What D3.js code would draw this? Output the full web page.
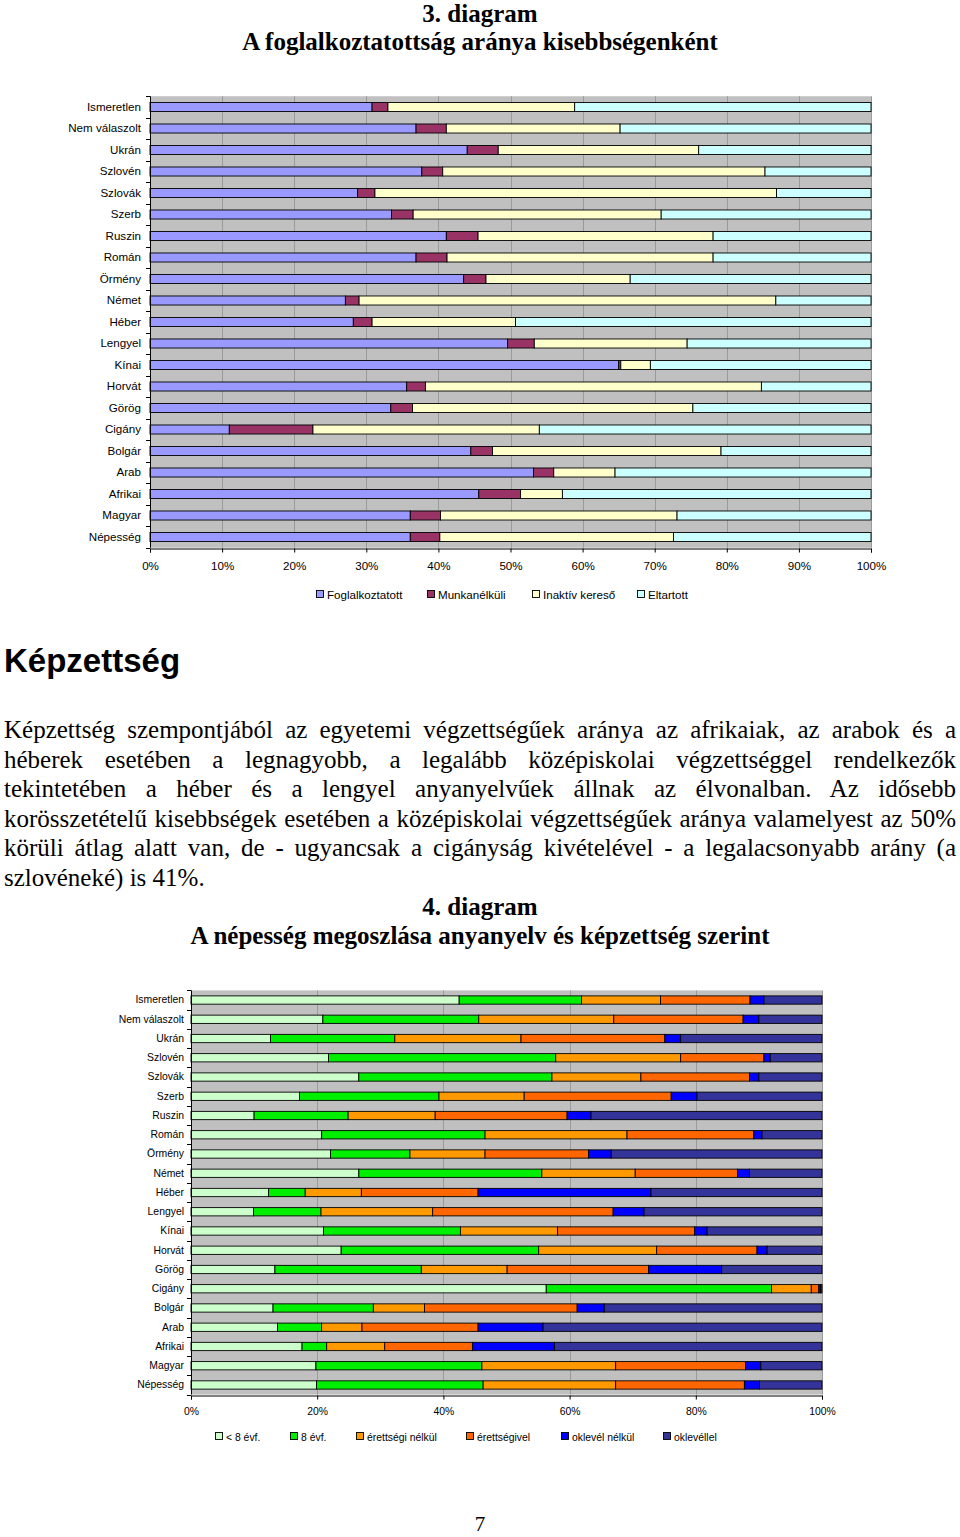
<!DOCTYPE html>
<html><head><meta charset="utf-8">
<script src="https://cdn.jsdelivr.net/npm/d3@7"></script>
<style>
html,body{margin:0;padding:0;background:#fff;}
svg{display:block;}
</style></head>
<body>
<svg id="page" width="960" height="1537"></svg>
<script>
// ---------- DATA ----------
const categories = ["Ismeretlen","Nem válaszolt","Ukrán","Szlovén","Szlovák","Szerb","Ruszin","Román","Örmény","Német","Héber","Lengyel","Kínai","Horvát","Görög","Cigány","Bolgár","Arab","Afrikai","Magyar","Népesség"];

// Chart 3: employment (percent)
const empKeys = ["Foglalkoztatott","Munkanélküli","Inaktív kereső","Eltartott"];
const foglalkoztatott = [30.8,36.9,44.0,37.7,28.8,33.5,41.1,36.9,43.5,27.1,28.2,49.6,65.0,35.6,33.4,11.0,44.5,53.2,45.6,36.1,36.1];
const munkanelkuli    = [2.2,4.2,4.3,2.9,2.4,3.0,4.4,4.3,3.1,1.9,2.6,3.7,0.3,2.6,3.0,11.6,3.0,2.8,5.8,4.2,4.1];
const inaktivKereso   = [25.9,24.1,27.8,44.7,55.7,34.4,32.6,36.9,20.0,57.8,19.9,21.2,4.1,46.6,38.9,31.4,31.7,8.5,5.8,32.8,32.4];
const eltartott       = [41.1,34.8,23.9,14.7,13.1,29.1,21.9,21.9,33.4,13.2,49.3,25.5,30.6,15.2,24.7,46.0,20.8,35.5,42.8,26.9,27.4];
const empTicks = ["0%","10%","20%","30%","40%","50%","60%","70%","80%","90%","100%"];

// Chart 4: education (percent)
const eduKeys = ["< 8 évf.","8 évf.","érettségi nélkül","érettségivel","oklevél nélkül","oklevéllel"];
const kevesebb8 = [42.5,20.9,12.6,21.8,26.6,17.2,10.0,20.7,22.1,26.6,12.3,9.9,21.0,23.8,13.3,56.3,13.0,13.7,17.6,19.8,19.9];
const evf8      = [19.4,24.7,19.7,36.0,30.6,22.1,14.9,25.9,12.6,29.0,5.8,10.7,21.7,31.3,23.2,35.7,15.9,7.0,3.9,26.3,26.4];
const erettsegiNelkul = [12.5,21.4,20.0,19.8,14.1,13.5,13.8,22.5,11.9,14.8,8.9,17.7,15.4,18.7,13.6,6.3,8.1,6.4,9.2,21.2,21.0];
const erettsegivel    = [14.2,20.5,22.8,13.2,17.2,23.3,20.9,20.1,16.4,16.2,18.5,28.6,21.7,15.9,22.4,1.2,24.2,18.4,13.9,20.6,20.4];
const oklevelNelkul   = [2.2,2.5,2.5,1.0,1.5,4.1,3.8,1.3,3.6,1.9,27.4,4.9,2.0,1.6,11.6,0.3,4.3,10.3,13.0,2.4,2.4];
const oklevellel      = [9.2,10.0,22.4,8.2,10.0,19.8,36.6,9.5,33.4,11.5,27.1,28.2,18.2,8.7,15.9,0.2,34.5,44.2,42.4,9.7,9.9];
const eduTicks = ["0%","20%","40%","60%","80%","100%"];

// ---------- STYLES ----------
const empColors = ["#9999ff","#993366","#ffffcc","#ccffff"];
const eduColors = ["#ccffcc","#00ee00","#ff9900","#ff6600","#0000ff","#333399"];
const svg = d3.select("#page");
const serif = "'Liberation Serif','Times New Roman',serif";
const sans = "'Liberation Sans',Arial,sans-serif";

function centered(txt, y, size, bold){
  svg.append("text").attr("x",480).attr("y",y).attr("text-anchor","middle")
    .attr("font-family",serif).attr("font-size",size).attr("font-weight",bold?"bold":"normal")
    .attr("fill","#000").text(txt);
}

function drawChart(opt){
  const rows = categories.map((c,i)=>{
    const o = {cat:c};
    opt.keys.forEach((k,j)=>{ o[k]=opt.series[j][i]; });
    return o;
  });
  const stack = d3.stack().keys(opt.keys)(rows);
  const x = d3.scaleLinear().domain([0,100]).range([opt.x0,opt.x1]);
  const y = d3.scaleBand().domain(categories).range([opt.y0,opt.y1]).paddingInner(opt.pad).paddingOuter(opt.pad/2);
  const g = svg.append("g");
  // plot area
  g.append("rect").attr("x",opt.x0).attr("y",opt.y0).attr("width",opt.x1-opt.x0).attr("height",opt.y1-opt.y0).attr("fill","#c0c0c0");
  // grid
  const gridVals = d3.range(0,101,opt.step);
  g.selectAll(".grid").data(gridVals.slice(1)).join("line")
    .attr("x1",d=>Math.round(x(d))+0.5).attr("x2",d=>Math.round(x(d))+0.5)
    .attr("y1",opt.y0).attr("y2",opt.y1).attr("stroke","#9a9a9a").attr("stroke-width",1);
  // bars
  stack.forEach((s,si)=>{
    g.append("g").selectAll("rect").data(s).join("rect")
      .attr("x",d=>x(d[0])).attr("width",d=>Math.max(0,x(d[1])-x(d[0])))
      .attr("y",d=>y(d.data.cat)).attr("height",y.bandwidth())
      .attr("fill",opt.colors[si]).attr("stroke","#000").attr("stroke-width",0.9);
  });
  // y axis
  const ya = d3.axisLeft(y).tickSize(0).tickPadding(opt.labelPad);
  const yg = g.append("g").attr("transform",`translate(${opt.x0},0)`).call(ya);
  yg.select(".domain").remove();
  yg.selectAll("text").attr("font-family",sans).attr("font-size",opt.fs).attr("fill","#000");
  g.append("line").attr("x1",opt.x0+0.5).attr("x2",opt.x0+0.5).attr("y1",opt.y0).attr("y2",opt.y1).attr("stroke","#000");
  const bounds = categories.map(c=>y(c)-y.step()*y.paddingInner()/2).concat([opt.y1]);
  g.selectAll(".yt").data(bounds).join("line")
    .attr("x1",opt.x0-4).attr("x2",opt.x0).attr("y1",d=>Math.round(d)+0.5).attr("y2",d=>Math.round(d)+0.5).attr("stroke","#000");
  // x axis
  const xa = d3.axisBottom(x).tickValues(gridVals).tickFormat((d,i)=>opt.ticks[i]).tickSize(4).tickPadding(opt.xPad);
  const xg = g.append("g").attr("transform",`translate(0,${Math.round(opt.y1)+0.5})`).call(xa);
  xg.select(".domain").attr("stroke","#000");
  xg.selectAll("line").attr("stroke","#000");
  xg.selectAll("text").attr("font-family",sans).attr("font-size",opt.fs).attr("fill","#000");
  // legend
  opt.keys.forEach((k,i)=>{
    const lx = opt.legendX[i];
    g.append("rect").attr("x",lx-10.5).attr("y",opt.legendY-4.5).attr("width",7).attr("height",7)
      .attr("fill",opt.colors[i]).attr("stroke","#000").attr("stroke-width",0.9);
    g.append("text").attr("x",lx).attr("y",opt.legendY+4).attr("font-family",sans).attr("font-size",opt.fs).attr("fill","#000").text(k);
  });
}

// ---------- TITLES ----------
centered("3. diagram",22,25,true);
centered("A foglalkoztatottság aránya kisebbségenként",50,25,true);

drawChart({keys:empKeys, series:[foglalkoztatott,munkanelkuli,inaktivKereso,eltartott], colors:empColors,
  x0:150, x1:871, y0:96.25, y1:547.75, pad:0.58, step:10, ticks:empTicks, fs:11.6, labelPad:9, xPad:9,
  legendX:[327,438,543,648], legendY:595});

// ---------- TEXT ----------
svg.append("text").attr("x",4).attr("y",672).attr("font-family",sans).attr("font-weight","bold")
  .attr("font-size",33).attr("fill","#000").text("Képzettség");

const paragraphLines = [
 "Képzettség szempontjából az egyetemi végzettségűek aránya az afrikaiak, az arabok és a",
 "héberek esetében a legnagyobb, a legalább középiskolai végzettséggel rendelkezők",
 "tekintetében a héber és a lengyel anyanyelvűek állnak az élvonalban. Az idősebb",
 "korösszetételű kisebbségek esetében a középiskolai végzettségűek aránya valamelyest az 50%",
 "körüli átlag alatt van, de - ugyancsak a cigányság kivételével - a legalacsonyabb arány (a",
 "szlovéneké) is 41%."
];
paragraphLines.forEach((ln,i)=>{
  const t = svg.append("text").attr("x",4).attr("y",738+i*29.5).attr("font-family",serif)
    .attr("font-size",25).attr("fill","#000").text(ln);
  if(i<paragraphLines.length-1){
    const target = 952;
    const w = t.node().getComputedTextLength();
    const spaces = (ln.match(/ /g)||[]).length;
    if(w<=target){
      t.attr("word-spacing",(target-w)/spaces);
    } else {
      t.attr("textLength",target).attr("lengthAdjust","spacingAndGlyphs");
    }
  }
});

centered("4. diagram",915,25,true);
centered("A népesség megoszlása anyanyelv és képzettség szerint",944,25,true);

drawChart({keys:eduKeys, series:[kevesebb8,evf8,erettsegiNelkul,erettsegivel,oklevelNelkul,oklevellel], colors:eduColors,
  x0:191, x1:822, y0:990.4, y1:1394.6, pad:0.57, step:20, ticks:eduTicks, fs:10.4, labelPad:7, xPad:8,
  legendX:[226,301,367,477,572,674], legendY:1437});

svg.append("text").attr("x",480).attr("y",1531).attr("text-anchor","middle").attr("font-family",serif)
  .attr("font-size",21).attr("fill","#000").text("7");
</script>
</body></html>
